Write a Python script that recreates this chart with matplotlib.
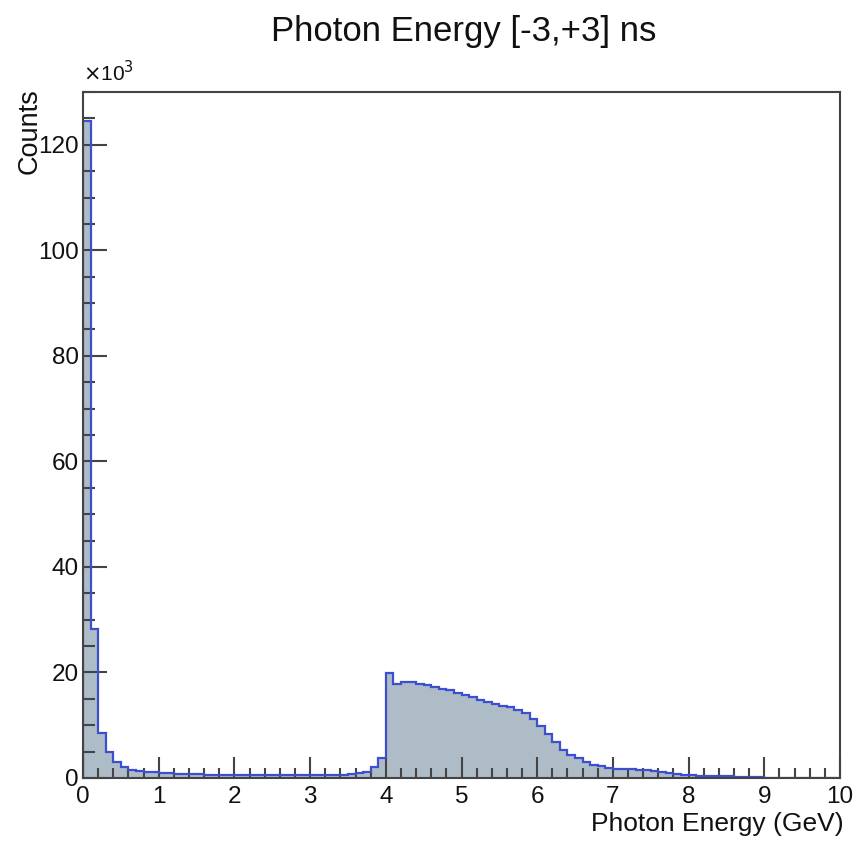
import numpy as np
import matplotlib.pyplot as plt
from matplotlib.ticker import MultipleLocator

plt.rcParams['font.family'] = ['Liberation Sans', 'DejaVu Sans']

# Histogram: 100 bins of 0.1 GeV between 0 and 10 GeV, counts in units of 10^3
bin_lo = 0.0
bin_hi = 10.0
counts_k = [
    124.5, 28.2, 8.5, 5.0, 3.1, 2.0, 1.5, 1.3, 1.2, 1.1,     # 0 - 1
    0.9, 0.9, 0.85, 0.8, 0.7, 0.7, 0.65, 0.65, 0.6, 0.6,     # 1 - 2
    0.6, 0.55, 0.55, 0.55, 0.55, 0.5, 0.5, 0.5, 0.5, 0.5,    # 2 - 3
    0.5, 0.5, 0.5, 0.55, 0.6, 0.8, 0.9, 1.2, 2.0, 3.8,       # 3 - 4
    19.9, 17.8, 18.1, 18.1, 17.9, 17.6, 17.3, 16.9, 16.6, 16.1,  # 4 - 5
    15.7, 15.4, 14.8, 14.4, 14.0, 13.7, 13.5, 12.9, 12.3, 11.2,  # 5 - 6
    9.8, 8.3, 6.8, 5.4, 4.4, 3.7, 3.0, 2.5, 2.2, 1.9,        # 6 - 7
    1.8, 1.7, 1.7, 1.6, 1.5, 1.3, 1.2, 1.0, 0.8, 0.6,        # 7 - 8
    0.5, 0.4, 0.35, 0.3, 0.3, 0.3, 0.25, 0.25, 0.2, 0.15,    # 8 - 9
    0, 0, 0, 0, 0, 0, 0, 0, 0, 0,                            # 9 - 10
]
edges = np.linspace(bin_lo, bin_hi, len(counts_k) + 1)

fig = plt.figure(figsize=(8.68, 8.44), dpi=100)
ax = fig.add_axes([83 / 868, 1 - 778 / 844, (840 - 83) / 868, (778 - 92) / 844])

ax.stairs(counts_k, edges, fill=True, color='#aebcc8', zorder=1)
ax.stairs(counts_k, edges, color='#3b4fd0', linewidth=1.6, zorder=2)

ax.set_xlim(0, 10)
ax.set_ylim(0, 130)

frame_col = '#444444'
for s in ax.spines.values():
    s.set_color(frame_col)
    s.set_linewidth(1.5)
    s.set_zorder(5)

ax.xaxis.set_major_locator(MultipleLocator(1))
ax.xaxis.set_minor_locator(MultipleLocator(0.2))
ax.yaxis.set_major_locator(MultipleLocator(20))
ax.yaxis.set_minor_locator(MultipleLocator(5))
ax.tick_params(which='both', direction='in', color=frame_col, width=1.5,
               top=False, right=False, labelsize=17.5, labelcolor='#111111')
ax.tick_params(axis='x', which='major', length=15, pad=6)
ax.tick_params(axis='x', which='minor', length=7.5)
ax.tick_params(axis='y', which='major', length=17.5, pad=3)
ax.tick_params(axis='y', which='minor', length=8.5)

fig.text(464 / 868, 1 - 32 / 844, 'Photon Energy [-3,+3] ns', ha='center', va='center',
         fontsize=25, color='#111111')
fig.text(844 / 868, 1 - 824 / 844, 'Photon Energy (GeV)', ha='right', va='center',
         fontsize=19, color='#111111')
fig.text(30 / 868, 1 - 88 / 844, 'Counts', rotation=90, ha='center', va='top',
         fontsize=19.5, color='#111111')
ax.text(0, 1.01, r'$\times$10$^{3}$', transform=ax.transAxes, ha='left', va='bottom',
        fontsize=15, color='#111111')

fig.savefig('out.png', dpi=100, facecolor='white')
